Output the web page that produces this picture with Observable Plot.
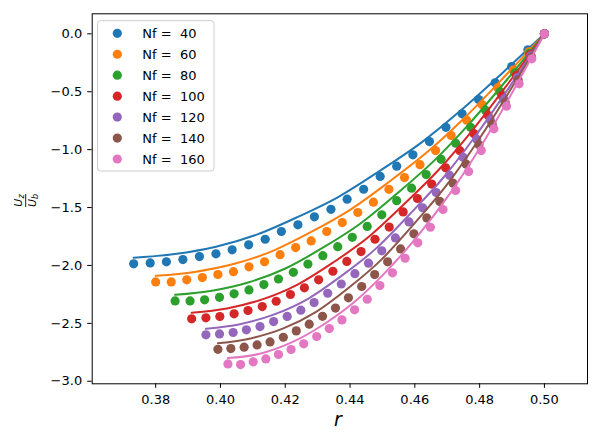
<!DOCTYPE html>
<html>
<head>
<meta charset="utf-8">
<script src="https://cdn.jsdelivr.net/npm/d3@7"></script>
<script src="https://cdn.jsdelivr.net/npm/@observablehq/plot@0.6"></script>
<style>
  html, body { margin: 0; padding: 0; background: white; }
  #chart svg { display: block; }
</style>
</head>
<body>
<div id="chart"></div>
<script>
const nfValues = [40, 60, 80, 100, 120, 140, 160];
const colors = ["#1f77b4", "#ff7f0e", "#2ca02c", "#d62728", "#9467bd", "#8c564b", "#e377c2"];
const xTicks = [0.38, 0.40, 0.42, 0.44, 0.46, 0.48, 0.50];
const yTicks = [0.0, -0.5, -1.0, -1.5, -2.0, -2.5, -3.0];

// scatter data (r, Uz/Ub)
const r40 = [0.3732,0.3783,0.3833,0.3884,0.3935,0.3986,0.4036,0.4087,0.4138,0.4188,0.4239,0.4290,0.4341,0.4391,0.4442,0.4493,0.4544,0.4594,0.4645,0.4696,0.4746,0.4797,0.4848,0.4899,0.4949,0.5000];
const u40 = [-1.986,-1.978,-1.969,-1.949,-1.923,-1.900,-1.865,-1.822,-1.774,-1.707,-1.649,-1.580,-1.515,-1.428,-1.342,-1.231,-1.143,-1.045,-0.930,-0.807,-0.691,-0.567,-0.423,-0.282,-0.138,0];
const r60 = [0.3800,0.3848,0.3896,0.3944,0.3992,0.4040,0.4088,0.4136,0.4184,0.4232,0.4280,0.4328,0.4376,0.4424,0.4472,0.4520,0.4568,0.4616,0.4664,0.4712,0.4760,0.4808,0.4856,0.4904,0.4952,0.5000];
const u60 = [-2.142,-2.142,-2.124,-2.105,-2.078,-2.054,-2.012,-1.968,-1.907,-1.846,-1.788,-1.707,-1.630,-1.543,-1.454,-1.343,-1.241,-1.130,-1.008,-0.878,-0.746,-0.613,-0.465,-0.313,-0.156,0];
const r80 = [0.3860,0.3906,0.3951,0.3997,0.4042,0.4088,0.4134,0.4179,0.4225,0.4270,0.4316,0.4362,0.4407,0.4453,0.4498,0.4544,0.4590,0.4635,0.4681,0.4726,0.4772,0.4818,0.4863,0.4909,0.4954,0.5000];
const u80 = [-2.306,-2.306,-2.297,-2.275,-2.245,-2.211,-2.165,-2.117,-2.059,-1.988,-1.916,-1.838,-1.757,-1.663,-1.563,-1.441,-1.333,-1.215,-1.084,-0.945,-0.807,-0.660,-0.500,-0.337,-0.168,0];
const r100 = [0.3911,0.3955,0.3998,0.4042,0.4085,0.4129,0.4172,0.4216,0.4259,0.4303,0.4347,0.4390,0.4434,0.4477,0.4521,0.4564,0.4608,0.4652,0.4695,0.4739,0.4782,0.4826,0.4869,0.4913,0.4956,0.5000];
const u100 = [-2.461,-2.452,-2.441,-2.418,-2.389,-2.355,-2.309,-2.251,-2.193,-2.124,-2.050,-1.965,-1.880,-1.774,-1.669,-1.538,-1.422,-1.297,-1.157,-1.009,-0.861,-0.704,-0.534,-0.359,-0.180,0];
const r120 = [0.3955,0.3997,0.4039,0.4080,0.4122,0.4164,0.4206,0.4248,0.4289,0.4331,0.4373,0.4415,0.4457,0.4498,0.4540,0.4582,0.4624,0.4666,0.4707,0.4749,0.4791,0.4833,0.4875,0.4916,0.4958,0.5000];
const u120 = [-2.599,-2.591,-2.579,-2.556,-2.528,-2.485,-2.440,-2.386,-2.321,-2.240,-2.160,-2.071,-1.980,-1.874,-1.762,-1.624,-1.502,-1.370,-1.222,-1.066,-0.910,-0.743,-0.564,-0.379,-0.190,0];
const r140 = [0.3992,0.4032,0.4073,0.4113,0.4153,0.4194,0.4234,0.4274,0.4315,0.4355,0.4395,0.4436,0.4476,0.4516,0.4556,0.4597,0.4637,0.4677,0.4718,0.4758,0.4798,0.4839,0.4879,0.4919,0.4960,0.5000];
const u140 = [-2.724,-2.718,-2.706,-2.686,-2.660,-2.620,-2.565,-2.507,-2.439,-2.368,-2.280,-2.182,-2.079,-1.969,-1.857,-1.727,-1.590,-1.447,-1.290,-1.125,-0.958,-0.782,-0.593,-0.399,-0.200,0];
const r160 = [0.4023,0.4062,0.4101,0.4140,0.4179,0.4218,0.4257,0.4297,0.4336,0.4375,0.4414,0.4453,0.4492,0.4531,0.4570,0.4609,0.4648,0.4687,0.4726,0.4766,0.4805,0.4844,0.4883,0.4922,0.4961,0.5000];
const u160 = [-2.850,-2.856,-2.832,-2.807,-2.769,-2.726,-2.677,-2.614,-2.545,-2.470,-2.383,-2.292,-2.174,-2.064,-1.938,-1.805,-1.670,-1.517,-1.353,-1.189,-1.008,-0.820,-0.625,-0.432,-0.216,0];

// fitted curves (r, Uz/Ub)
const rl40 = [0.3732,0.3859,0.3986,0.4112,0.4239,0.4366,0.4493,0.4620,0.4746,0.4873,0.5000];
const ul40 = [-1.934,-1.902,-1.839,-1.734,-1.581,-1.405,-1.181,-0.939,-0.652,-0.331,0];
const rl60 = [0.3800,0.3920,0.4040,0.4160,0.4280,0.4400,0.4520,0.4640,0.4760,0.4880,0.5000];
const ul60 = [-2.090,-2.056,-1.988,-1.876,-1.711,-1.520,-1.279,-1.017,-0.707,-0.360,0];
const rl80 = [0.3860,0.3974,0.4088,0.4202,0.4316,0.4430,0.4544,0.4658,0.4772,0.4886,0.5000];
const ul80 = [-2.254,-2.218,-2.145,-2.024,-1.847,-1.642,-1.381,-1.099,-0.764,-0.390,0];
const rl100 = [0.3911,0.4020,0.4129,0.4238,0.4347,0.4456,0.4564,0.4673,0.4782,0.4891,0.5000];
const ul100 = [-2.409,-2.371,-2.293,-2.165,-1.976,-1.757,-1.478,-1.176,-0.818,-0.418,0];
const rl120 = [0.3955,0.4060,0.4164,0.4269,0.4373,0.4478,0.4582,0.4687,0.4791,0.4896,0.5000];
const ul120 = [-2.547,-2.507,-2.425,-2.290,-2.091,-1.859,-1.564,-1.245,-0.867,-0.443,0];
const rl140 = [0.3992,0.4093,0.4194,0.4294,0.4395,0.4496,0.4597,0.4698,0.4798,0.4899,0.5000];
const ul140 = [-2.672,-2.630,-2.544,-2.403,-2.195,-1.952,-1.643,-1.307,-0.910,-0.466,0];
const rl160 = [0.4023,0.4121,0.4218,0.4316,0.4414,0.4512,0.4609,0.4707,0.4805,0.4902,0.5000];
const ul160 = [-2.800,-2.763,-2.667,-2.514,-2.314,-2.051,-1.744,-1.384,-0.966,-0.500,0];

const scatterR = [r40, r60, r80, r100, r120, r140, r160];
const scatterU = [u40, u60, u80, u100, u120, u140, u160];
const lineR = [rl40, rl60, rl80, rl100, rl120, rl140, rl160];
const lineU = [ul40, ul60, ul80, ul100, ul120, ul140, ul160];

const seriesMarks = [];
nfValues.forEach((nf, i) => {
  const pts = scatterR[i].map((r, j) => ({r, u: scatterU[i][j]}));
  const lpts = lineR[i].map((r, j) => ({r, u: lineU[i][j]}));
  seriesMarks.push(Plot.dot(pts, {x: "r", y: "u", r: 4.6, fill: colors[i], stroke: "none"}));
  seriesMarks.push(Plot.line(lpts, {x: "r", y: "u", stroke: colors[i], strokeWidth: 2, curve: "monotone-x"}));
});

const chart = Plot.plot({
  width: 600,
  height: 440,
  marginLeft: 91.7,
  marginRight: 13,
  marginTop: 13.3,
  marginBottom: 56.7,
  x: {domain: [0.3604, 0.5133]},
  y: {domain: [-3.022, 0.173]},
  style: {fontFamily: "DejaVu Sans", fontSize: "13px", color: "black", background: "white"},
  marks: [
    ...seriesMarks,
    Plot.frame({stroke: "black", strokeWidth: 1}),
    Plot.axisX({ticks: xTicks, tickFormat: d3.format(".2f"), tickSize: 4.5, tickPadding: 6, label: null}),
    Plot.axisY({ticks: yTicks, tickFormat: d3.format(".1f"), tickSize: 4.5, tickPadding: 5.5, label: null})
  ]
});

document.getElementById("chart").appendChild(chart);

const svg = d3.select(chart);

// x label
svg.append("text")
  .attr("x", 338).attr("y", 426)
  .attr("text-anchor", "middle")
  .attr("font-family", "DejaVu Sans")
  .attr("font-style", "italic")
  .attr("font-size", 19)
  .attr("fill", "black")
  .text("r");

// y label: fraction Uz / Ub
const yl = svg.append("g").attr("transform", "translate(25.7,200.5) rotate(-90)")
  .attr("font-family", "DejaVu Sans").attr("font-style", "italic").attr("fill", "black");
const num = yl.append("text").attr("x", 0).attr("y", -4).attr("text-anchor", "middle").attr("font-size", 11);
num.append("tspan").text("U");
num.append("tspan").attr("font-size", 8).attr("dy", 2).text("z");
yl.append("line").attr("x1", -6.5).attr("x2", 6.5).attr("y1", 0).attr("y2", 0)
  .attr("stroke", "black").attr("stroke-width", 0.9);
const den = yl.append("text").attr("x", 0).attr("y", 10.5).attr("text-anchor", "middle").attr("font-size", 11);
den.append("tspan").text("U");
den.append("tspan").attr("font-size", 8).attr("dy", 2).text("b");

// legend
const lg = svg.append("g").attr("text-anchor", "start");
lg.append("rect")
  .attr("x", 97.5).attr("y", 20.7).attr("width", 116.5).attr("height", 150.3)
  .attr("rx", 3).attr("fill", "white").attr("fill-opacity", 0.8)
  .attr("stroke", "#cccccc").attr("stroke-width", 1);
nfValues.forEach((nf, i) => {
  const yy = 33.3 + i * 20.95;
  lg.append("circle").attr("cx", 117.3).attr("cy", yy).attr("r", 4.6).attr("fill", colors[i]);
  lg.append("text")
    .attr("x", 142.3).attr("y", yy).attr("dy", "0.36em")
    .attr("text-anchor", "start")
    .attr("font-family", "DejaVu Sans").attr("font-size", 13).attr("fill", "black")
    .style("white-space", "pre")
    .text("Nf =  " + nf);
});
</script>
</body>
</html>
